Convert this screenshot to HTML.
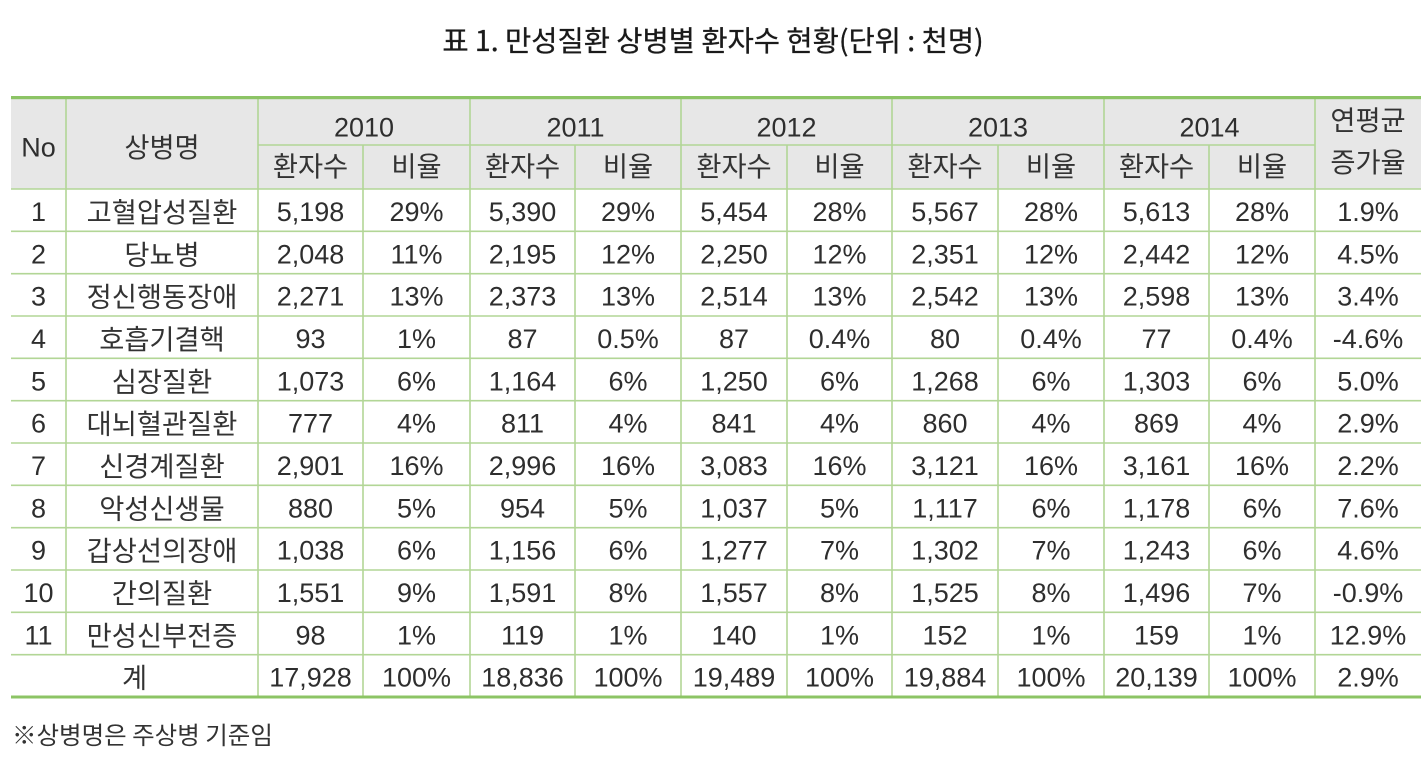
<!DOCTYPE html>
<html><head><meta charset="utf-8"><style>
html,body{margin:0;padding:0;background:#fff;}
svg{display:block;}
.t{font-family:"Noto Sans CJK KR","Liberation Sans",sans-serif;font-size:28.5px;fill:#1a1a1a;stroke:#1a1a1a;stroke-width:0.3px;}
.n{font-family:"Liberation Sans","Noto Sans CJK KR",sans-serif;font-size:27px;fill:#2e2e2e;}
.k{font-family:"Noto Sans CJK KR","Liberation Sans",sans-serif;font-size:27.3px;fill:#333;}
.f{font-family:"Noto Sans CJK KR","Liberation Sans",sans-serif;font-size:24.5px;fill:#333;}
text{text-anchor:middle;}
</style></head><body>
<svg width="1425" height="761" viewBox="0 0 1425 761" xmlns="http://www.w3.org/2000/svg">
<rect width="1425" height="761" fill="#fff"/>
<text class="t" x="713" y="51">표 1. 만성질환 상병별 환자수 현황(단위 : 천명)</text>

<rect x="11" y="99" width="1410" height="90" fill="#e7e7e7"/>

<g stroke="#b2d696" stroke-width="1.6" fill="none">
<line x1="258" y1="145" x2="1315" y2="145"/>
<line x1="11" y1="189" x2="1421" y2="189"/>
<line x1="11" y1="231.3" x2="1421" y2="231.3"/>
<line x1="11" y1="273.7" x2="1421" y2="273.7"/>
<line x1="11" y1="316" x2="1421" y2="316"/>
<line x1="11" y1="358.3" x2="1421" y2="358.3"/>
<line x1="11" y1="400.7" x2="1421" y2="400.7"/>
<line x1="11" y1="443" x2="1421" y2="443"/>
<line x1="11" y1="485.3" x2="1421" y2="485.3"/>
<line x1="11" y1="527.7" x2="1421" y2="527.7"/>
<line x1="11" y1="570" x2="1421" y2="570"/>
<line x1="11" y1="612.3" x2="1421" y2="612.3"/>
<line x1="11" y1="654.7" x2="1421" y2="654.7"/>
<line x1="66" y1="99" x2="66" y2="654.7"/>
<line x1="258" y1="99" x2="258" y2="697"/>
<line x1="470" y1="99" x2="470" y2="697"/>
<line x1="681" y1="99" x2="681" y2="697"/>
<line x1="892" y1="99" x2="892" y2="697"/>
<line x1="1104" y1="99" x2="1104" y2="697"/>
<line x1="1315" y1="99" x2="1315" y2="697"/>
<line x1="363" y1="145" x2="363" y2="697"/>
<line x1="575" y1="145" x2="575" y2="697"/>
<line x1="787" y1="145" x2="787" y2="697"/>
<line x1="998" y1="145" x2="998" y2="697"/>
<line x1="1209" y1="145" x2="1209" y2="697"/>
</g>
<rect x="11" y="96" width="1410" height="3.2" fill="#8cc465"/>
<rect x="11" y="695.5" width="1410" height="3" fill="#8cc465"/>

<!-- header -->
<text class="n" x="38.5" y="156.5">No</text>
<text class="k" x="162" y="157">상병명</text>
<text class="n" x="364" y="136.5">2010</text>
<text class="n" x="575.5" y="136.5">2011</text>
<text class="n" x="786.5" y="136.5">2012</text>
<text class="n" x="998" y="136.5">2013</text>
<text class="n" x="1209.5" y="136.5">2014</text>
<text class="k" x="1368" y="130">연평균</text>
<text class="k" x="1368" y="172">증가율</text>
<text class="k" x="310.5" y="176">환자수</text><text class="k" x="416.5" y="176">비율</text>
<text class="k" x="522.5" y="176">환자수</text><text class="k" x="628" y="176">비율</text>
<text class="k" x="734" y="176">환자수</text><text class="k" x="839.5" y="176">비율</text>
<text class="k" x="945" y="176">환자수</text><text class="k" x="1051" y="176">비율</text>
<text class="k" x="1156.5" y="176">환자수</text><text class="k" x="1262" y="176">비율</text>

<!-- rows -->
<g transform="translate(0,221)">
<text class="n" x="38.5" y="0">1</text><text class="k" x="162" y="1">고혈압성질환</text>
<text class="n" x="310.5" y="0">5,198</text><text class="n" x="416.5" y="0">29%</text>
<text class="n" x="522.5" y="0">5,390</text><text class="n" x="628" y="0">29%</text>
<text class="n" x="734" y="0">5,454</text><text class="n" x="839.5" y="0">28%</text>
<text class="n" x="945" y="0">5,567</text><text class="n" x="1051" y="0">28%</text>
<text class="n" x="1156.5" y="0">5,613</text><text class="n" x="1262" y="0">28%</text>
<text class="n" x="1368" y="0">1.9%</text>
</g>
<g transform="translate(0,263.3)">
<text class="n" x="38.5" y="0">2</text><text class="k" x="162" y="1">당뇨병</text>
<text class="n" x="310.5" y="0">2,048</text><text class="n" x="416.5" y="0">11%</text>
<text class="n" x="522.5" y="0">2,195</text><text class="n" x="628" y="0">12%</text>
<text class="n" x="734" y="0">2,250</text><text class="n" x="839.5" y="0">12%</text>
<text class="n" x="945" y="0">2,351</text><text class="n" x="1051" y="0">12%</text>
<text class="n" x="1156.5" y="0">2,442</text><text class="n" x="1262" y="0">12%</text>
<text class="n" x="1368" y="0">4.5%</text>
</g>
<g transform="translate(0,305.7)">
<text class="n" x="38.5" y="0">3</text><text class="k" x="162" y="1">정신행동장애</text>
<text class="n" x="310.5" y="0">2,271</text><text class="n" x="416.5" y="0">13%</text>
<text class="n" x="522.5" y="0">2,373</text><text class="n" x="628" y="0">13%</text>
<text class="n" x="734" y="0">2,514</text><text class="n" x="839.5" y="0">13%</text>
<text class="n" x="945" y="0">2,542</text><text class="n" x="1051" y="0">13%</text>
<text class="n" x="1156.5" y="0">2,598</text><text class="n" x="1262" y="0">13%</text>
<text class="n" x="1368" y="0">3.4%</text>
</g>
<g transform="translate(0,348)">
<text class="n" x="38.5" y="0">4</text><text class="k" x="162" y="1">호흡기결핵</text>
<text class="n" x="310.5" y="0">93</text><text class="n" x="416.5" y="0">1%</text>
<text class="n" x="522.5" y="0">87</text><text class="n" x="628" y="0">0.5%</text>
<text class="n" x="734" y="0">87</text><text class="n" x="839.5" y="0">0.4%</text>
<text class="n" x="945" y="0">80</text><text class="n" x="1051" y="0">0.4%</text>
<text class="n" x="1156.5" y="0">77</text><text class="n" x="1262" y="0">0.4%</text>
<text class="n" x="1368" y="0">-4.6%</text>
</g>
<g transform="translate(0,390.3)">
<text class="n" x="38.5" y="0">5</text><text class="k" x="162" y="1">심장질환</text>
<text class="n" x="310.5" y="0">1,073</text><text class="n" x="416.5" y="0">6%</text>
<text class="n" x="522.5" y="0">1,164</text><text class="n" x="628" y="0">6%</text>
<text class="n" x="734" y="0">1,250</text><text class="n" x="839.5" y="0">6%</text>
<text class="n" x="945" y="0">1,268</text><text class="n" x="1051" y="0">6%</text>
<text class="n" x="1156.5" y="0">1,303</text><text class="n" x="1262" y="0">6%</text>
<text class="n" x="1368" y="0">5.0%</text>
</g>
<g transform="translate(0,432.7)">
<text class="n" x="38.5" y="0">6</text><text class="k" x="162" y="1">대뇌혈관질환</text>
<text class="n" x="310.5" y="0">777</text><text class="n" x="416.5" y="0">4%</text>
<text class="n" x="522.5" y="0">811</text><text class="n" x="628" y="0">4%</text>
<text class="n" x="734" y="0">841</text><text class="n" x="839.5" y="0">4%</text>
<text class="n" x="945" y="0">860</text><text class="n" x="1051" y="0">4%</text>
<text class="n" x="1156.5" y="0">869</text><text class="n" x="1262" y="0">4%</text>
<text class="n" x="1368" y="0">2.9%</text>
</g>
<g transform="translate(0,475)">
<text class="n" x="38.5" y="0">7</text><text class="k" x="162" y="1">신경계질환</text>
<text class="n" x="310.5" y="0">2,901</text><text class="n" x="416.5" y="0">16%</text>
<text class="n" x="522.5" y="0">2,996</text><text class="n" x="628" y="0">16%</text>
<text class="n" x="734" y="0">3,083</text><text class="n" x="839.5" y="0">16%</text>
<text class="n" x="945" y="0">3,121</text><text class="n" x="1051" y="0">16%</text>
<text class="n" x="1156.5" y="0">3,161</text><text class="n" x="1262" y="0">16%</text>
<text class="n" x="1368" y="0">2.2%</text>
</g>
<g transform="translate(0,517.3)">
<text class="n" x="38.5" y="0">8</text><text class="k" x="162" y="1">악성신생물</text>
<text class="n" x="310.5" y="0">880</text><text class="n" x="416.5" y="0">5%</text>
<text class="n" x="522.5" y="0">954</text><text class="n" x="628" y="0">5%</text>
<text class="n" x="734" y="0">1,037</text><text class="n" x="839.5" y="0">5%</text>
<text class="n" x="945" y="0">1,117</text><text class="n" x="1051" y="0">6%</text>
<text class="n" x="1156.5" y="0">1,178</text><text class="n" x="1262" y="0">6%</text>
<text class="n" x="1368" y="0">7.6%</text>
</g>
<g transform="translate(0,559.7)">
<text class="n" x="38.5" y="0">9</text><text class="k" x="162" y="1">갑상선의장애</text>
<text class="n" x="310.5" y="0">1,038</text><text class="n" x="416.5" y="0">6%</text>
<text class="n" x="522.5" y="0">1,156</text><text class="n" x="628" y="0">6%</text>
<text class="n" x="734" y="0">1,277</text><text class="n" x="839.5" y="0">7%</text>
<text class="n" x="945" y="0">1,302</text><text class="n" x="1051" y="0">7%</text>
<text class="n" x="1156.5" y="0">1,243</text><text class="n" x="1262" y="0">6%</text>
<text class="n" x="1368" y="0">4.6%</text>
</g>
<g transform="translate(0,602)">
<text class="n" x="38.5" y="0">10</text><text class="k" x="162" y="1">간의질환</text>
<text class="n" x="310.5" y="0">1,551</text><text class="n" x="416.5" y="0">9%</text>
<text class="n" x="522.5" y="0">1,591</text><text class="n" x="628" y="0">8%</text>
<text class="n" x="734" y="0">1,557</text><text class="n" x="839.5" y="0">8%</text>
<text class="n" x="945" y="0">1,525</text><text class="n" x="1051" y="0">8%</text>
<text class="n" x="1156.5" y="0">1,496</text><text class="n" x="1262" y="0">7%</text>
<text class="n" x="1368" y="0">-0.9%</text>
</g>
<g transform="translate(0,644.3)">
<text class="n" x="38.5" y="0">11</text><text class="k" x="162" y="1">만성신부전증</text>
<text class="n" x="310.5" y="0">98</text><text class="n" x="416.5" y="0">1%</text>
<text class="n" x="522.5" y="0">119</text><text class="n" x="628" y="0">1%</text>
<text class="n" x="734" y="0">140</text><text class="n" x="839.5" y="0">1%</text>
<text class="n" x="945" y="0">152</text><text class="n" x="1051" y="0">1%</text>
<text class="n" x="1156.5" y="0">159</text><text class="n" x="1262" y="0">1%</text>
<text class="n" x="1368" y="0">12.9%</text>
</g>
<g transform="translate(0,686.7)">
<text class="k" x="134.5" y="1">계</text>
<text class="n" x="310.5" y="0">17,928</text><text class="n" x="416.5" y="0">100%</text>
<text class="n" x="522.5" y="0">18,836</text><text class="n" x="628" y="0">100%</text>
<text class="n" x="734" y="0">19,489</text><text class="n" x="839.5" y="0">100%</text>
<text class="n" x="945" y="0">19,884</text><text class="n" x="1051" y="0">100%</text>
<text class="n" x="1156.5" y="0">20,139</text><text class="n" x="1262" y="0">100%</text>
<text class="n" x="1368" y="0">2.9%</text>
</g>

<text class="f" x="12" y="744" style="text-anchor:start">※상병명은 주상병 기준임</text>
</svg>
</body></html>
